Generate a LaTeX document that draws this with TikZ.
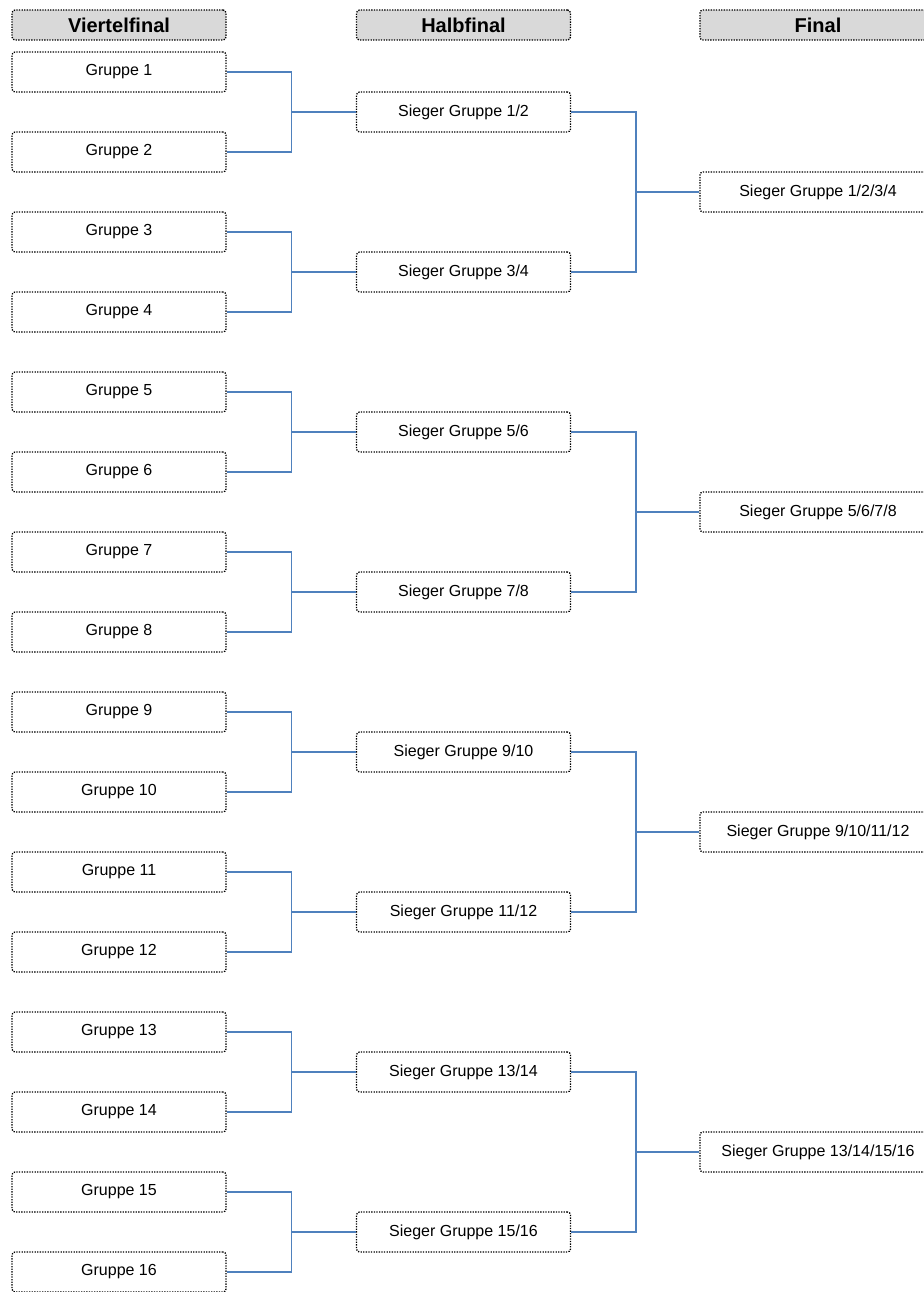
\documentclass[tikz,border=0pt]{standalone}
\usepackage{fontspec}
\setmainfont{Liberation Sans}
\definecolor{LinkColor}{RGB}{79,129,189}
\definecolor{HeadFill}{RGB}{217,217,217}
\usepackage{tikz}
\usetikzlibrary{positioning}
\tikzstyle{grpbox} = [draw=black, line width=1.3pt, dash pattern=on 1.3pt off 1.3pt, rounded corners=3pt, fill=white, minimum width=214pt, minimum height=40pt, inner sep=0pt, font=\fontsize{16}{19}\selectfont]
\tikzstyle{finbox} = [grpbox, minimum width=236pt]
\tikzstyle{headbox} = [grpbox, fill=HeadFill, minimum height=30pt, font=\fontsize{20}{24}\selectfont\bfseries]
\tikzstyle{link} = [line width=1.5pt, LinkColor]

\begin{document}
\begin{tikzpicture}[x=1pt, y=-1pt]
                \useasboundingbox (0,0) rectangle (923,1292);

                \node[headbox] (hdVF) at (119,25) {Viertelfinal};
                \node[headbox] (hdHF) at (463.5,25) {Halbfinal};
                \node[headbox, minimum width=236pt] (hdF) at (818,25) {Final};

                \foreach \k in {1,...,16} {
                    \node[grpbox] (g\k) at (119,{72+80*(\k-1)}) {Gruppe \k};
                }

                \foreach \j in {1,...,8} {
                    \pgfmathtruncatemacro{\a}{2*\j-1}
                    \pgfmathtruncatemacro{\b}{2*\j}
                    \node[grpbox] (h\j) at (463.5,{112+160*(\j-1)}) {Sieger Gruppe \a/\b};
                    \draw[link] (g\a.east) -- ++(65,0) |- (h\j.west);
                    \draw[link] (g\b.east) -- ++(65,0) |- (h\j.west);
                }

                \foreach \m in {1,...,4} {
                    \pgfmathtruncatemacro{\a}{4*\m-3}
                    \pgfmathtruncatemacro{\b}{4*\m-2}
                    \pgfmathtruncatemacro{\c}{4*\m-1}
                    \pgfmathtruncatemacro{\d}{4*\m}
                    \pgfmathtruncatemacro{\p}{2*\m-1}
                    \pgfmathtruncatemacro{\q}{2*\m}
                    \node[finbox] (f\m) at (818,{192+320*(\m-1)}) {Sieger Gruppe \a/\b/\c/\d};
                    \draw[link] (h\p.east) -- ++(65,0) |- (f\m.west);
                    \draw[link] (h\q.east) -- ++(65,0) |- (f\m.west);
                }
            \end{tikzpicture}
\end{document}
